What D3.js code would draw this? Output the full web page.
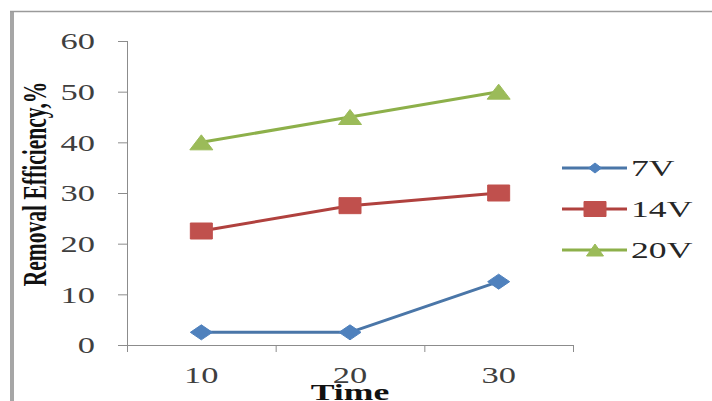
<!DOCTYPE html>
<html>
<head>
<meta charset="utf-8">
<script src="https://cdn.jsdelivr.net/npm/d3@7"></script>
<style>
  html, body { margin: 0; padding: 0; background: #fff; }
  svg { display: block; }
</style>
</head>
<body>
<script>
// Removal efficiency versus time for three applied voltages
const times = ["10", "20", "30"];
const seriesNames = ["7V", "14V", "20V"];
const values7V = [2.5, 2.5, 12.5];
const values14V = [22.5, 27.5, 30];
const values20V = [40, 45, 50];
const yTicks = [0, 10, 20, 30, 40, 50, 60];

const W = 712, H = 401;
const plot = { left: 127, right: 573, top: 41, bottom: 345 };
const fontSerif = "'Liberation Serif', 'Times New Roman', 'DejaVu Serif', serif";
const stretch = 1.5; // glyphs drawn wide

const series = [
  { name: seriesNames[0], values: values7V, color: "#4f81bd", line: "#4a76a8", shape: "diamond", mw: 22, mh: 15, lw: 13, lh: 10 },
  { name: seriesNames[1], values: values14V, color: "#c0504d", line: "#b0413e", shape: "square", mw: 22, mh: 16, lw: 22, lh: 15 },
  { name: seriesNames[2], values: values20V, color: "#9bbb59", line: "#8db04a", shape: "triangle", mw: 23, mh: 15, lw: 17, lh: 12 }
];

const svg = d3.select("body").append("svg").attr("width", W).attr("height", H);

// frame edges
svg.append("rect").attr("x", 10).attr("y", 11).attr("width", 4).attr("height", H - 11).attr("fill", "#a6a6a6");
svg.append("line").attr("x1", 10).attr("x2", W).attr("y1", 11.5).attr("y2", 11.5)
  .attr("stroke", "#9a9a9a").attr("stroke-width", 1.5);

const x = d3.scaleBand().domain(times).range([plot.left, plot.right]).paddingInner(0).paddingOuter(0);
const y = d3.scaleLinear().domain([0, 60]).range([plot.bottom, plot.top]);
const cx = d => x(d) + x.bandwidth() / 2;

// y axis
const yAxis = svg.append("g").attr("transform", `translate(${plot.left},0)`)
  .call(d3.axisLeft(y).tickValues(yTicks).tickSize(9).tickPadding(0).tickSizeOuter(0));
yAxis.select(".domain").attr("stroke", "#8c8c8c").attr("d", `M0.5,${plot.top}V${plot.bottom + 7}`);
yAxis.selectAll(".tick line").attr("stroke", "#8c8c8c");
yAxis.selectAll(".tick text")
  .attr("x", -32 / stretch).attr("dy", "0.34em")
  .attr("transform", `scale(${stretch},1)`)
  .attr("font-family", fontSerif).attr("font-size", 23).attr("fill", "#3f3f3f")
  .attr("text-anchor", "end");

// x axis: ticks at band boundaries, labels at band centres
const xAxisG = svg.append("g").attr("transform", `translate(0,${plot.bottom})`);
xAxisG.append("line").attr("x1", plot.left).attr("x2", plot.right).attr("y1", 0.5).attr("y2", 0.5)
  .attr("stroke", "#8c8c8c");
const bounds = times.map(t => x(t)).concat([plot.right]);
xAxisG.selectAll("line.xt").data(bounds.slice(1)).join("line").attr("class", "xt")
  .attr("x1", d => d + 0.5).attr("x2", d => d + 0.5).attr("y1", 0).attr("y2", 7)
  .attr("stroke", "#8c8c8c");
xAxisG.selectAll("text.xl").data(times).join("text").attr("class", "xl")
  .attr("transform", d => `translate(${cx(d)},38) scale(${stretch},1)`)
  .attr("text-anchor", "middle").attr("font-family", fontSerif).attr("font-size", 23)
  .attr("fill", "#3f3f3f").text(d => d);

// axis titles
svg.append("text")
  .attr("transform", `translate(350,400) scale(1.55,1)`)
  .attr("text-anchor", "middle").attr("font-family", fontSerif).attr("font-weight", "bold")
  .attr("font-size", 23).attr("fill", "#111").text("Time");
svg.append("text")
  .attr("transform", `translate(46,184) rotate(-90) scale(0.98,${stretch})`)
  .attr("text-anchor", "middle").attr("font-family", fontSerif).attr("font-weight", "bold")
  .attr("font-size", 22).attr("fill", "#111").text("Removal Efficiency,%");

// marker outline for a shape of width w and height h centred at 0,0
function markerPath(shape, w, h) {
  const p = d3.path();
  if (shape === "diamond") {
    p.moveTo(0, -h / 2); p.lineTo(w / 2, 0); p.lineTo(0, h / 2); p.lineTo(-w / 2, 0); p.closePath();
  } else if (shape === "square") {
    p.rect(-w / 2, -h / 2, w, h);
  } else {
    p.moveTo(0, -h / 2); p.lineTo(w / 2, h / 2); p.lineTo(-w / 2, h / 2); p.closePath();
  }
  return p.toString();
}

const lineGen = d3.line().x((d, i) => cx(times[i])).y(d => y(d));

series.forEach(s => {
  svg.append("path").attr("d", lineGen(s.values)).attr("fill", "none")
    .attr("stroke", s.line).attr("stroke-width", 3).attr("stroke-linejoin", "round");
  svg.selectAll(null).data(s.values).join("path")
    .attr("transform", (d, i) => `translate(${cx(times[i])},${y(d)})`)
    .attr("d", markerPath(s.shape, s.mw, s.mh))
    .attr("fill", s.color).attr("stroke", s.color).attr("stroke-width", 1);
});

// legend
const legendRows = d3.scalePoint().domain(seriesNames).range([168, 250]);
const legend = svg.append("g");
series.forEach(s => {
  const g = legend.append("g").attr("transform", `translate(0,${legendRows(s.name)})`);
  g.append("line").attr("x1", 562).attr("x2", 627).attr("y1", 0).attr("y2", 0)
    .attr("stroke", s.line).attr("stroke-width", 3);
  g.append("path").attr("transform", "translate(595,0)").attr("d", markerPath(s.shape, s.lw, s.lh))
    .attr("fill", s.color).attr("stroke", s.color);
  g.append("text").attr("transform", `translate(631,8) scale(1.55,1)`)
    .attr("font-family", fontSerif).attr("font-size", 23).attr("fill", "#262626").text(s.name);
});
</script>
</body>
</html>
